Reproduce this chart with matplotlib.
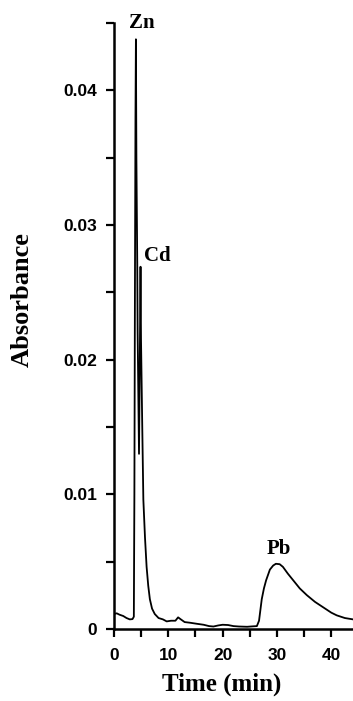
import matplotlib
matplotlib.use("Agg")
import matplotlib.pyplot as plt
from matplotlib.ticker import MultipleLocator, FixedLocator

# Chromatogram trace
tempo = [0.0, 0.5, 1.0, 1.7, 2.3, 2.9, 3.4, 3.65, 3.75, 3.85, 3.95, 4.03,
         4.12, 4.28, 4.35, 4.6, 4.75, 4.88, 4.97, 5.2, 5.4, 5.7, 6.0, 6.3,
         6.6, 7.0, 7.5, 8.2, 9.0, 9.7, 10.5, 11.3, 11.8, 12.3, 13.0, 14.0,
         15.3, 16.5, 17.5, 18.3, 19.2, 20.0, 21.0, 22.0, 23.0, 24.5, 25.5,
         26.3, 26.7, 27.2, 27.6, 28.0, 28.7, 29.3, 29.8, 30.5, 31.1, 32.0,
         33.0, 34.2, 35.5, 37.0, 38.5, 40.0, 41.0, 42.5, 44.0]
absorbancia = [0.0011, 0.00115, 0.00105, 0.00095, 0.0008, 0.0007, 0.00072,
               0.0009, 0.010, 0.025, 0.038, 0.0438, 0.035, 0.027, 0.022,
               0.013, 0.020, 0.0269, 0.0215, 0.015, 0.0096, 0.0068, 0.0046,
               0.0032, 0.0022, 0.0015, 0.0011, 0.0008, 0.0007, 0.00055,
               0.0006, 0.0006, 0.00085, 0.0007, 0.0005, 0.00045, 0.00037,
               0.0003, 0.0002, 0.00017, 0.00025, 0.0003, 0.00028, 0.0002,
               0.00017, 0.00015, 0.00018, 0.0002, 0.0006, 0.0022, 0.003,
               0.0036, 0.0044, 0.0047, 0.00483, 0.0048, 0.0046, 0.0041,
               0.0036, 0.003, 0.0025, 0.002, 0.0016, 0.0012, 0.001, 0.0008,
               0.0007]

# peak labels
picos = ["Zn", "Cd", "Pb"]
picos_x = [5.2, 8.0, 30.4]
picos_y = [0.0450, 0.0277, 0.0059]

xticks_maior = [0, 10, 20, 30, 40]
yticks_maior = [0, 0.01, 0.02, 0.03, 0.04]
ytick_labels = ["0", "0.01", "0.02", "0.03", "0.04"]

fig = plt.figure(figsize=(3.53, 7.01), dpi=100)
ax = fig.add_axes([0.323, 0.103, 0.677, 0.864])

ax.plot(tempo, absorbancia, color="black", linewidth=1.3)

ax.set_xlim(0, 44)
ax.set_ylim(0, 0.045)

ax.spines["top"].set_visible(False)
ax.spines["right"].set_visible(False)
ax.spines["left"].set_linewidth(1.8)
ax.spines["bottom"].set_linewidth(1.8)

ax.xaxis.set_major_locator(FixedLocator(xticks_maior))
ax.xaxis.set_minor_locator(MultipleLocator(5))
ax.yaxis.set_major_locator(FixedLocator(yticks_maior))
ax.yaxis.set_minor_locator(MultipleLocator(0.005))
ax.set_yticklabels(ytick_labels)

ax.tick_params(which="both", direction="out", length=6, width=1.6, color="black")
ax.tick_params(axis="x", which="major", pad=8)
ax.tick_params(axis="y", which="major", pad=6)

for lbl in ax.get_xticklabels() + ax.get_yticklabels():
    lbl.set_fontfamily("Liberation Sans")
    lbl.set_fontweight("bold")
    lbl.set_fontsize(12.5)

ax.set_xlabel("Time (min)", fontfamily="Liberation Serif", fontweight="bold", fontsize=18)
ax.set_ylabel("Absorbance", fontfamily="Liberation Serif", fontweight="bold", fontsize=19)
ax.xaxis.set_label_coords(0.452, -0.073)
ax.yaxis.set_label_coords(-0.335, 0.543)

for nome, px, py in zip(picos, picos_x, picos_y):
    ax.text(px, py, nome, fontfamily="Liberation Serif", fontweight="bold",
            fontsize=15, ha="center", va="center", clip_on=False)

fig.savefig("out.png", dpi=100)
